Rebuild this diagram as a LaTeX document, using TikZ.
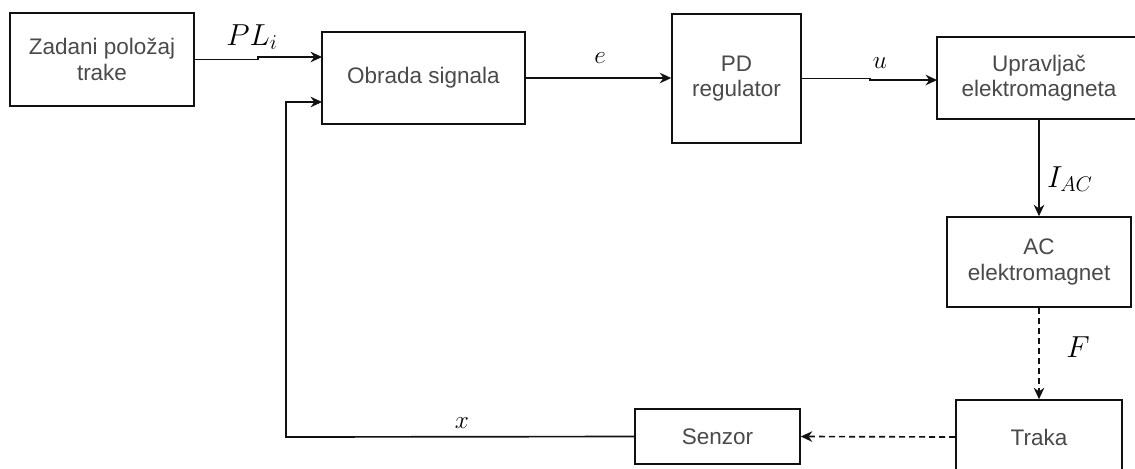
\documentclass[tikz,border=0pt]{standalone}
\usepackage{amsmath}
\usepackage[no-math]{fontspec}
\setmainfont{Liberation Sans}
\usepackage{xcolor}
\usepackage{tikz}
\usetikzlibrary{arrows.meta}
\definecolor{BlockInk}{HTML}{111111}
\definecolor{BlockText}{HTML}{4A4A4A}
\tikzset{
  figure/.style={x=0.02cm,y=-0.02cm,font=\fontsize{12.8}{14.5}\selectfont,>={Stealth[length=6.5pt,width=6pt]}},
  block/.style={draw=BlockInk,line width=0.95pt,text=BlockText,align=center,inner sep=0pt},
  flow/.style={->,line width=0.95pt,draw=BlockInk},
  dflow/.style={flow,dash pattern=on 3.4pt off 2.3pt},
  sig/.style={inner sep=0pt,font=\fontsize{16.5}{16.5}\selectfont},
}

\begin{document}
\begin{tikzpicture}[figure]
  \fill[white] (0,0) rectangle (1135,468);
  \clip (0,0) rectangle (1135,468);

  % blocks
  \node[block,minimum width=3.68cm,minimum height=1.86cm] (zad) at (102,59.5) {Zadani položaj\\trake};
  \node[block,minimum width=4.06cm,minimum height=1.84cm] (obr) at (423.5,78) {Obrada signala};
  \node[block,minimum width=2.58cm,minimum height=2.58cm] (pd) at (736.5,78.5) {PD\\regulator};
  \node[block,minimum width=4.08cm,minimum height=1.64cm] (upr) at (1039,78) {Upravljač\\elektromagneta};
  \node[block,minimum width=3.68cm,minimum height=1.80cm] (ac) at (1039,262) {AC\\elektromagnet};
  \node[block,minimum width=3.32cm,minimum height=1.48cm] (trk) at (1039,437) {Traka};
  \node[block,minimum width=3.30cm,minimum height=1.10cm] (sen) at (717.5,436.5) {Senzor};

  % ports and bends
  \coordinate (obrA) at (322,57);
  \coordinate (obrB) at (322,102);
  \coordinate (kinkPL) at (258,57);
  \coordinate (kinkU) at (870,80);
  \coordinate (uprA) at (937,80);
  \coordinate (fbk) at (286,437);

  % signals
  \draw[flow] (zad.east) -| (kinkPL) -- (obrA);
  \draw[flow] (obr.east) -- (obr.east -| pd.west);
  \draw[flow] (pd.east) -| (kinkU) -- (uprA);
  \draw[flow] (upr.south) -- (ac.north);
  \draw[dflow] (ac.south) -- (trk.north);
  \draw[dflow] (trk.west) -- (sen.east);
  \draw[flow] (sen.west) -- (fbk) |- (obrB);

  % labels
  \node[sig] (lblPL) at (252,37) {$PL_i$};
  \node[sig,font=\fontsize{14}{14}\selectfont] (lblE) at (600,58) {$e$};
  \node[sig,font=\fontsize{14}{14}\selectfont] (lblU) at (880,63) {$u$};
  \node[sig,font=\fontsize{17}{17}\selectfont] (lblI) at (1070,179) {$I_{AC}$};
  \node[sig,font=\fontsize{17}{17}\selectfont] (lblF) at (1078,347) {$F$};
  \node[sig,font=\fontsize{15}{15}\selectfont] (lblX) at (462,423) {$x$};
\end{tikzpicture}
\end{document}
